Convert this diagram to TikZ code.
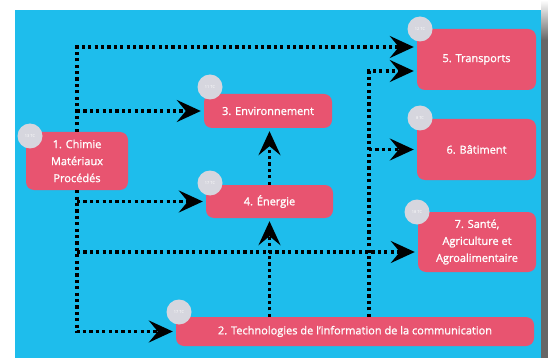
\documentclass[tikz,border=0pt]{standalone}
\usepackage{fontspec}
\setmainfont{Open Sans}
\newfontfamily\polefont{Open Sans}[Ligatures=TeX,FakeBold=1.2]
\usetikzlibrary{arrows.meta}

\definecolor{fond}{RGB}{30,189,236}
\definecolor{rose}{RGB}{232,84,112}
\definecolor{pastille}{RGB}{214,214,222}
\definecolor{ombre}{RGB}{102,102,102}

\tikzset{
  pole/.style={fill=rose,rounded corners=8pt,text=white,align=center,
    inner sep=0pt,font=\polefont\fontsize{11}{17}\selectfont},
  tc/.style={circle,fill=pastille,text=white,minimum size=25pt,inner sep=0pt,
    font=\fontsize{4}{4}\selectfont},
  lien/.style={line width=3.2pt,dash pattern=on 3.2pt off 3.2pt,
    -{Stealth[length=24pt,width=22pt,inset=9pt]},shorten >=3pt}
}

\begin{document}
\begin{tikzpicture}[x=1pt,y=-1pt]
\useasboundingbox (0,0) rectangle (548,358);
\fill[white] (0,0) rectangle (548,358);
\fill[fond] (15,10) rectangle (541,358);
\shade[top color=white,bottom color=ombre] (541,0) rectangle (548,40);
\fill[ombre] (541,40) rectangle (548,358);

% les sept poles
\node[pole,minimum width=102pt,minimum height=58pt] (chimie) at (77,161) {1. Chimie\\Matériaux\\Procédés};
\node[pole,minimum width=128pt,minimum height=34pt] (env) at (268,111) {3. Environnement};
\node[pole,minimum width=127pt,minimum height=33pt] (energie) at (269.5,201.5) {4. Énergie};
\node[pole,minimum width=358pt,minimum height=29pt] (techno) at (355,331.5) {2. Technologies de l’information de la communication};
\node[pole,minimum width=119pt,minimum height=61pt] (transports) at (476.5,59.5) {5. Transports};
\node[pole,minimum width=119pt,minimum height=61pt] (batiment) at (476.5,149.5) {6. Bâtiment};
\node[pole,minimum width=118pt,minimum height=60pt] (sante) at (477,242) {7. Santé,\\Agriculture et\\Agroalimentaire};

\foreach \p/\x/\y/\n in {chimie/30/136/13, env/210/87/11, energie/210/183/17,
    techno/179/312/17, transports/420/29/12, batiment/420/118/8, sante/417/212/18}
  \node[tc] (tc-\p) at (\x,\y) {\n\ TC};

\coordinate (col) at (369,0);
\draw[lien] (chimie.north) |- (transports.west |- 0,47);
\draw[lien] (env.west -| chimie) -- (env.west);
\draw[lien] (energie.west -| chimie) -- (energie.west);
\draw[lien] (chimie.south) |- (techno.west);
\draw[lien] (chimie |- 0,252) -- (sante.west |- 0,252);
\draw[lien] (techno.north -| energie.south) -- (energie.south);
\draw[lien] (energie.north) -- (energie.north |- env.south);
\draw[lien] (techno.north -| col) |- (transports.west |- 0,71);
\draw[lien] (col |- batiment.west) -- (batiment.west);
\end{tikzpicture}
\end{document}
